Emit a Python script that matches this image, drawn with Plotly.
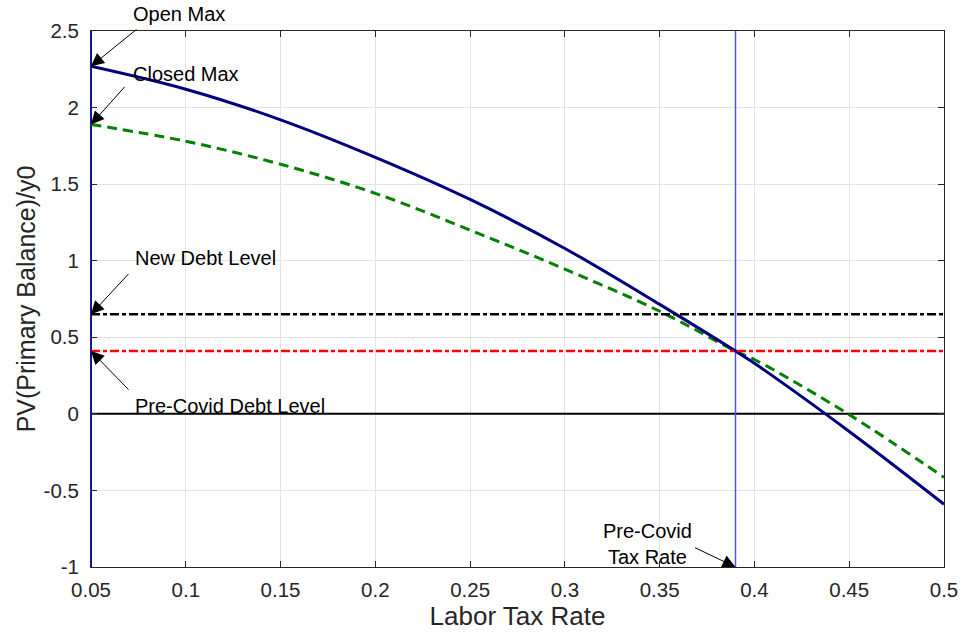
import plotly.graph_objects as go

# ---- data ----
tax_rate = [0.05, 0.10, 0.15, 0.20, 0.25, 0.30, 0.35, 0.39, 0.40, 0.45, 0.50]
open_pv = [2.27, 2.12, 1.92, 1.675, 1.40, 1.08, 0.715, 0.41, 0.33, -0.115, -0.59]
closed_pv = [1.89, 1.78, 1.63, 1.44, 1.20, 0.945, 0.67, 0.41, 0.355, -0.005, -0.415]
new_debt = 0.65
precovid_debt = 0.41
precovid_tax = 0.39
x_range = [0.05, 0.5]
y_range = [-1, 2.5]
x_ticks = [0.05, 0.1, 0.15, 0.2, 0.25, 0.3, 0.35, 0.4, 0.45, 0.5]
x_tick_labels = ["0.05", "0.1", "0.15", "0.2", "0.25", "0.3", "0.35", "0.4", "0.45", "0.5"]
y_ticks = [-1, -0.5, 0, 0.5, 1, 1.5, 2, 2.5]
y_tick_labels = ["-1", "-0.5", "0", "0.5", "1", "1.5", "2", "2.5"]

FONT = "Liberation Sans, Arial, Helvetica, sans-serif"
AX = "#262626"

fig = go.Figure()

# zero line
fig.add_trace(go.Scatter(x=x_range, y=[0, 0], mode="lines",
                         line=dict(color="black", width=2), showlegend=False, hoverinfo="skip"))
# vertical lines
fig.add_trace(go.Scatter(x=[x_range[0], x_range[0]], y=y_range, mode="lines",
                         line=dict(color="#0000ff", width=2), showlegend=False, hoverinfo="skip"))
fig.add_trace(go.Scatter(x=[precovid_tax, precovid_tax], y=y_range, mode="lines",
                         line=dict(color="#5050ff", width=1.5), showlegend=False, hoverinfo="skip"))
# curves
fig.add_trace(go.Scatter(x=tax_rate, y=closed_pv, mode="lines", line_shape="spline",
                         line=dict(color="#008000", width=3, dash="10px,6px"), showlegend=False))
fig.add_trace(go.Scatter(x=tax_rate, y=open_pv, mode="lines", line_shape="spline",
                         line=dict(color="#000080", width=3), showlegend=False))
# debt levels
fig.add_trace(go.Scatter(x=x_range, y=[new_debt, new_debt], mode="lines",
                         line=dict(color="black", width=2.5, dash="9px,3px,4px,3px"), showlegend=False))
fig.add_trace(go.Scatter(x=x_range, y=[precovid_debt, precovid_debt], mode="lines",
                         line=dict(color="#ff0000", width=2.5, dash="9px,3px,4px,3px"), showlegend=False))

arrow = dict(showarrow=True, arrowhead=2, arrowsize=2.6, arrowwidth=1, arrowcolor="black",
             axref="pixel", ayref="pixel", text="", xref="x", yref="y")
fig.add_annotation(x=x_range[0], y=open_pv[0], ax=47, ay=-38, **arrow)
fig.add_annotation(x=x_range[0], y=closed_pv[0], ax=35, ay=-39, **arrow)
fig.add_annotation(x=x_range[0], y=new_debt, ax=39, ay=-42, **arrow)
fig.add_annotation(x=x_range[0], y=precovid_debt, ax=39, ay=40, **arrow)
fig.add_annotation(x=precovid_tax, y=y_range[0], ax=-42, ay=-20, **arrow)

txt = dict(showarrow=False, xref="x", yref="y", xanchor="left", yanchor="middle",
           font=dict(family=FONT, size=20, color="black"))
fig.add_annotation(x=x_range[0], y=open_pv[0], text="Open Max", xshift=40, yshift=52, **txt)
fig.add_annotation(x=x_range[0], y=closed_pv[0], text="Closed Max", xshift=40, yshift=50, **txt)
fig.add_annotation(x=x_range[0], y=new_debt, text="New Debt Level", xshift=42, yshift=56, **txt)
fig.add_annotation(x=x_range[0], y=precovid_debt, text="Pre-Covid Debt Level", xshift=42, yshift=-55, **txt)
fig.add_annotation(x=precovid_tax, y=y_range[0], text="Pre-Covid<br>Tax Rate",
                   showarrow=False, xref="x", yref="y", xanchor="center", yanchor="middle",
                   xshift=-88, yshift=23, font=dict(family=FONT, size=20, color="black"))

axis_common = dict(showgrid=True, gridcolor="#e3e3e3", gridwidth=1, showline=True,
                   linecolor=AX, linewidth=1, mirror="ticks", ticks="inside", ticklen=6,
                   tickcolor=AX, zeroline=False, automargin=False,
                   tickfont=dict(family=FONT, size=20.5, color=AX))
fig.update_xaxes(range=x_range, tickvals=x_ticks, ticktext=x_tick_labels, ticklabelstandoff=4,
                 title=dict(text="Labor Tax Rate", font=dict(family=FONT, size=26, color=AX), standoff=2),
                 **axis_common)
fig.update_yaxes(range=y_range, tickvals=y_ticks, ticktext=y_tick_labels, ticklabelstandoff=7,
                 title=dict(text="PV(Primary Balance)/y0", font=dict(family=FONT, size=25, color=AX), standoff=0),
                 **axis_common)
fig.update_layout(width=963, height=638, plot_bgcolor="white", paper_bgcolor="white",
                  margin=dict(l=91, r=19, t=31, b=71), showlegend=False,
                  font=dict(family=FONT))

fig.write_html("out.html", config={"displayModeBar": False},
               post_script="document.body.style.margin='0px';")
